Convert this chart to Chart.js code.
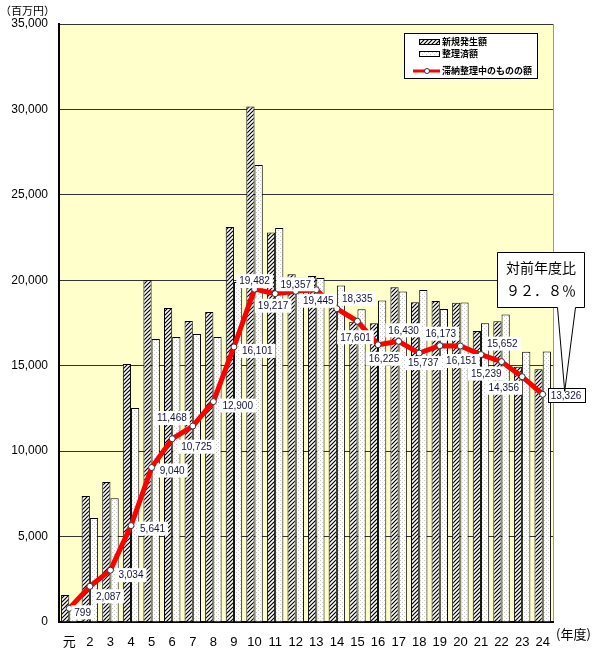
<!DOCTYPE html>
<html lang="ja">
<head>
<meta charset="UTF-8">
<title>滞納整理中のものの額の推移</title>
<script src="https://cdn.jsdelivr.net/npm/chart.js"></script>
<style>
  body { margin: 0; background: #fff; }
  #wrap { width: 600px; height: 649px; }
</style>
</head>
<body>
<div id="wrap"><canvas id="chart" width="600" height="649"></canvas></div>
<script>
// 年度
const years = ['元','2','3','4','5','6','7','8','9','10','11','12','13','14','15','16','17','18','19','20','21','22','23','24'];
// 新規発生額 (百万円)
const newAmount = [1580, 7370, 8190, 15100, 20000, 18380, 17620, 18140, 23120, 30170, 22790, 20350, 20250, 18600, 17570, 17480, 19590, 18710, 18790, 18690, 17030, 17600, 14940, 14800];
// 整理済額 (百万円)
const settled = [780, 6090, 7240, 12520, 16560, 16680, 16860, 16680, 19900, 26750, 23060, 20160, 20130, 19700, 18300, 18810, 19340, 19430, 18320, 18700, 17480, 18000, 15820, 15830];
// 滞納整理中のものの額 (百万円)
const balance = [799, 2087, 3034, 5641, 9040, 10725, 11468, 12900, 16101, 19482, 19217, 19357, 19445, 18335, 17601, 16225, 16430, 15737, 16173, 16151, 15652, 15239, 14356, 13326];

// where each value label sits relative to its point: [anchor, dx, dy]
const labelPlace = [
  ['l',5,4],['l',6,10],['l',8,5],['l',9,3],['l',8,3],['l',9,8],['r',-6,-8],['l',9,4],
  ['l',8,4],['c',0,-8],['c',-2,12],['c',0,-7],['c',2,11],['l',5,-10],['c',-2,16],['c',6,14],
  ['c',5,-11],['c',4,10],['c',1,-12],['c',1,15],['l',6,-11],['r',0,12],['r',-3,11],['l',8,1]
];

const FONT = "'Liberation Sans', 'Noto Sans CJK JP', sans-serif";
const JP = "'Noto Sans CJK JP', sans-serif";

function hatchPattern() {
  const c = document.createElement('canvas');
  c.width = 4; c.height = 4;
  const g = c.getContext('2d');
  g.fillStyle = '#fff';
  g.fillRect(0, 0, 4, 4);
  g.strokeStyle = '#000';
  g.lineWidth = 1.2;
  g.beginPath();
  g.moveTo(-1, 5); g.lineTo(5, -1);
  g.moveTo(-1, 1); g.lineTo(1, -1);
  g.moveTo(3, 5); g.lineTo(5, 3);
  g.stroke();
  return g.createPattern(c, 'repeat');
}

function dotPattern() {
  const c = document.createElement('canvas');
  c.width = 4; c.height = 4;
  const g = c.getContext('2d');
  g.fillStyle = '#fff';
  g.fillRect(0, 0, 4, 4);
  g.fillStyle = '#c8c8c8';
  g.fillRect(0, 0, 1, 1);
  g.fillRect(2, 2, 1, 1);
  return g.createPattern(c, 'repeat');
}

const hatch = hatchPattern();
const dots = dotPattern();

const plotBackground = {
  id: 'plotBackground',
  beforeDraw(chart) {
    const { ctx, chartArea: a } = chart;
    ctx.save();
    ctx.fillStyle = '#ffffcc';
    ctx.fillRect(a.left, a.top, a.right - a.left, a.bottom - a.top);
    ctx.strokeStyle = '#999';
    ctx.lineWidth = 1;
    ctx.beginPath();
    ctx.moveTo(a.right + 0.5, a.top);
    ctx.lineTo(a.right + 0.5, a.bottom);
    ctx.stroke();
    ctx.restore();
  }
};

const valueLabels = {
  id: 'valueLabels',
  afterDatasetsDraw(chart) {
    const ctx = chart.ctx;
    const meta = chart.getDatasetMeta(2);
    ctx.save();
    ctx.font = '10px ' + FONT;
    ctx.textBaseline = 'middle';
    meta.data.forEach((pt, i) => {
      const txt = balance[i].toLocaleString('en-US');
      const w = ctx.measureText(txt).width;
      const [anchor, dx, dy] = labelPlace[i];
      let left;
      if (anchor === 'l') left = pt.x + dx;
      else if (anchor === 'r') left = pt.x + dx - w;
      else left = pt.x + dx - w / 2;
      const cy = pt.y + dy;
      ctx.fillStyle = '#fff';
      ctx.fillRect(left - 3, cy - 7, w + 6, 14);
      if (i === balance.length - 1) {
        ctx.strokeStyle = '#000';
        ctx.lineWidth = 1;
        ctx.strokeRect(Math.round(left - 3) + 0.5, Math.round(cy - 7) + 0.5, Math.round(w + 6), 14);
      }
      ctx.fillStyle = '#14143c';
      ctx.fillText(txt, left, cy + 0.5);
    });
    ctx.restore();
  }
};

const extras = {
  id: 'extras',
  afterDraw(chart) {
    const ctx = chart.ctx;
    ctx.save();
    // unit labels
    ctx.fillStyle = '#000';
    ctx.font = '11px ' + JP;
    ctx.textBaseline = 'middle';
    ctx.textAlign = 'left';
    ctx.fillText('（百万円）', 0, 11);
    ctx.font = '13px ' + JP;
    ctx.fillText('(年度)', 556, 634);

    // legend box
    ctx.fillStyle = '#fff';
    ctx.fillRect(404, 33, 133, 45);
    ctx.strokeStyle = '#000';
    ctx.lineWidth = 1;
    ctx.strokeRect(404.5, 33.5, 133, 45);
    const rows = [42, 54, 71];
    ctx.fillStyle = hatch;
    ctx.fillRect(419, rows[0] - 3, 20, 6);
    ctx.strokeRect(419.5, rows[0] - 2.5, 20, 5);
    ctx.fillStyle = dots;
    ctx.fillRect(419, rows[1] - 3, 20, 6);
    ctx.strokeRect(419.5, rows[1] - 2.5, 20, 5);
    ctx.strokeStyle = '#ff0000';
    ctx.lineWidth = 3;
    ctx.beginPath();
    ctx.moveTo(413, rows[2]);
    ctx.lineTo(440, rows[2]);
    ctx.stroke();
    ctx.fillStyle = '#fff';
    ctx.strokeStyle = '#333';
    ctx.lineWidth = 1;
    ctx.beginPath();
    ctx.arc(427, rows[2], 2.5, 0, Math.PI * 2);
    ctx.fill();
    ctx.stroke();
    ctx.fillStyle = '#000';
    ctx.font = 'bold 9px ' + JP;
    ctx.fillText('新規発生額', 442, rows[0]);
    ctx.fillText('整理済額', 442, rows[1]);
    ctx.fillText('滞納整理中のものの額', 442, rows[2]);

    // callout
    const last = chart.getDatasetMeta(2).data[balance.length - 1];
    const tipX = last.x + 22, tipY = last.y - 3;
    ctx.fillStyle = '#fff';
    ctx.strokeStyle = '#000';
    ctx.lineWidth = 1;
    ctx.beginPath();
    ctx.moveTo(497.5, 252.5);
    ctx.lineTo(584.5, 252.5);
    ctx.lineTo(584.5, 307.5);
    ctx.lineTo(575.5, 307.5);
    ctx.lineTo(tipX, tipY);
    ctx.lineTo(557.5, 307.5);
    ctx.lineTo(497.5, 307.5);
    ctx.closePath();
    ctx.fill();
    ctx.stroke();
    ctx.fillStyle = '#000';
    ctx.font = '14px ' + JP;
    ctx.textAlign = 'center';
    ctx.fillText('対前年度比', 541, 268);
    ctx.fillText('９２．８％', 541, 291);
    ctx.restore();
  }
};

const ctx = document.getElementById('chart').getContext('2d');
new Chart(ctx, {
  data: {
    labels: years,
    datasets: [
      {
        type: 'bar',
        label: '新規発生額',
        data: newAmount,
        backgroundColor: hatch,
        borderColor: '#000',
        borderWidth: 1,
        categoryPercentage: 0.8,
        barPercentage: 1,
        order: 1
      },
      {
        type: 'bar',
        label: '整理済額',
        data: settled,
        backgroundColor: dots,
        borderColor: '#000',
        borderWidth: 1,
        categoryPercentage: 0.8,
        barPercentage: 1,
        order: 1
      },
      {
        type: 'line',
        label: '滞納整理中のものの額',
        data: balance,
        borderColor: '#ff0000',
        borderWidth: 5,
        pointRadius: 3,
        pointBackgroundColor: '#fff',
        pointBorderColor: '#333',
        pointBorderWidth: 1,
        tension: 0,
        order: 0
      }
    ]
  },
  options: {
    responsive: false,
    animation: false,
    layout: { padding: { top: 24, right: 47, left: 0, bottom: 0 } },
    plugins: {
      legend: { display: false },
      tooltip: { enabled: false }
    },
    scales: {
      x: {
        grid: { display: false },
        border: { color: '#000', width: 2 },
        ticks: {
          color: '#000',
          font: { size: 13, family: FONT },
          padding: 5,
          maxRotation: 0,
          autoSkip: false
        },
        afterFit(s) { s.height = 27; }
      },
      y: {
        min: 0,
        max: 35000,
        ticks: {
          stepSize: 5000,
          color: '#000',
          font: { size: 12, family: FONT },
          padding: 11,
          callback: v => v.toLocaleString('en-US')
        },
        grid: { color: '#333', lineWidth: 1, drawTicks: false },
        border: { color: '#000', width: 2 },
        afterFit(s) { s.width = 59; }
      }
    }
  },
  plugins: [plotBackground, valueLabels, extras]
});
</script>
</body>
</html>
